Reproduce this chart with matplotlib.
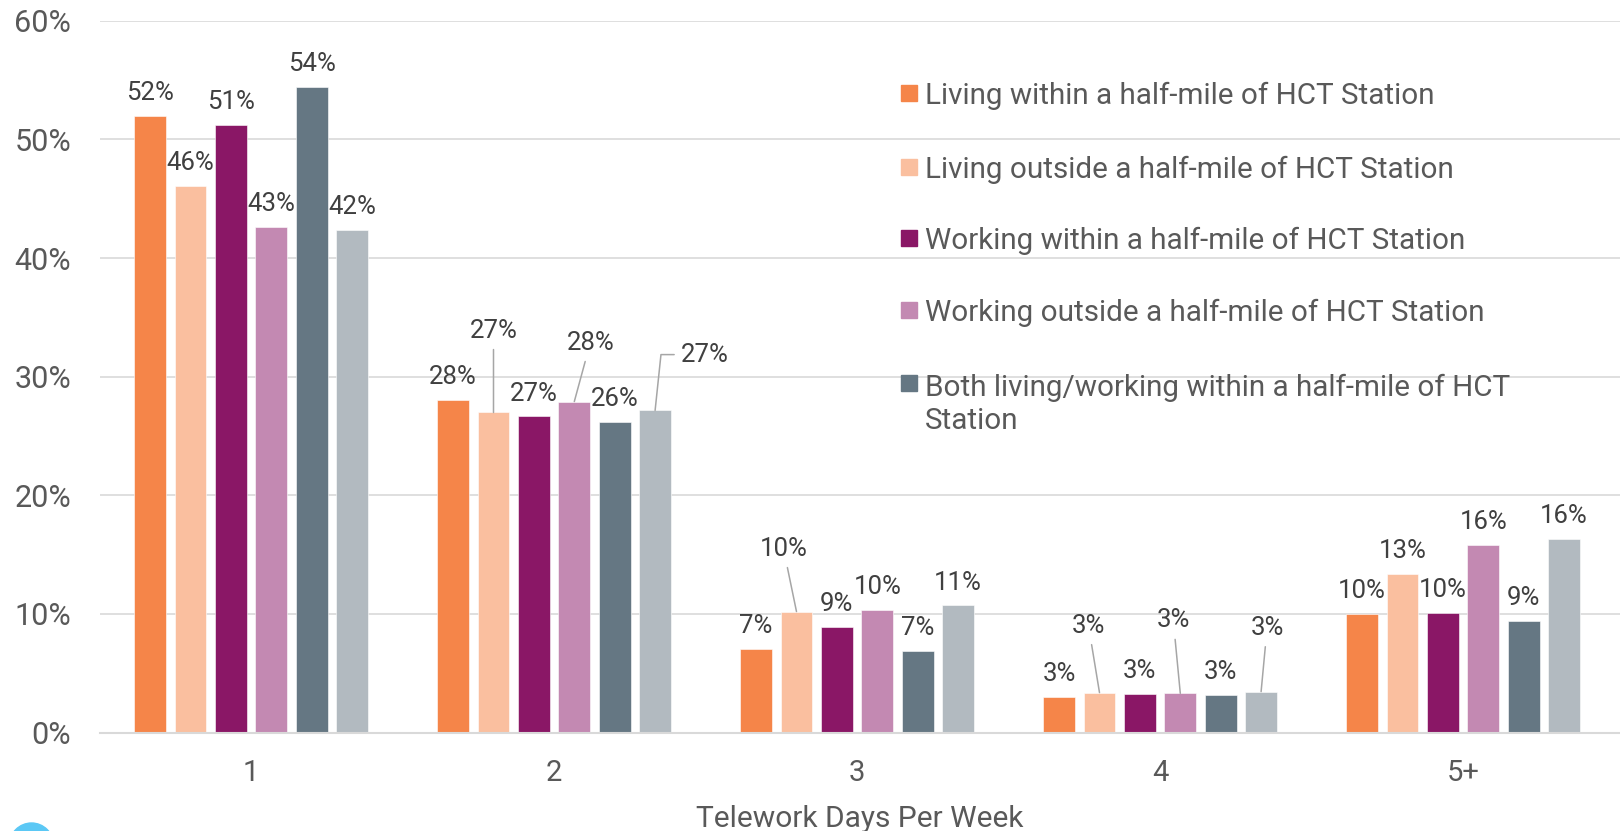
import numpy as np
import matplotlib.pyplot as plt
from matplotlib.patches import Rectangle, Circle
from matplotlib.transforms import IdentityTransform

plt.rcParams['font.family'] = ['Roboto', 'DejaVu Sans']

# data (percent of respondents)
days = ['1', '2', '3', '4', '5+']
living_within = [52.0, 28.05, 7.08, 3.0, 10.03]
living_outside = [46.1, 26.98, 10.2, 3.37, 13.37]
working_within = [51.2, 26.65, 8.87, 3.29, 10.11]
working_outside = [42.65, 27.9, 10.36, 3.31, 15.8]
both_within = [54.4, 26.2, 6.85, 3.2, 9.41]
sixth_series = [42.4, 27.15, 10.72, 3.45, 16.3]

labels = ['Living within a half-mile of HCT Station',
          'Living outside a half-mile of HCT Station',
          'Working within a half-mile of HCT Station',
          'Working outside a half-mile of HCT Station',
          'Both living/working within a half-mile of HCT\nStation']

series = [living_within, living_outside, working_within,
          working_outside, both_within, sixth_series]
colors = ['#F58549', '#FABF9F', '#8A1766', '#C389B2', '#657783', '#B2BAC0']

# label nudges (series, category): (dx px, px above bar top)
nudge = {(1, 1): (0, 84), (3, 1): (16, 61), (5, 1): (48, 58),
         (1, 2): (-13, 65), (1, 3): (-11, 69), (3, 3): (-7, 75),
         (5, 3): (6, 66)}

W, H = 1620, 831
fig = plt.figure(figsize=(W / 100, H / 100), dpi=100)
x0, y0, y1 = 99.6, 732.6, 20.7
ax = fig.add_axes([x0 / W, 1 - y0 / H, 1 - x0 / W, (y0 - y1) / H])

x = np.arange(len(days))
slot = 0.8 / 6
width = 0.105
txt = '#595959'
lab = '#404040'
fs_lab = 18.5
cap = 0.711 * fs_lab * 100 / 72

for i, vals in enumerate(series):
    pos = x + (i - 2.5) * slot
    ax.bar(pos, vals, width, color=colors[i], edgecolor='white',
           linewidth=0.4, zorder=2)
    for j, v in enumerate(vals):
        dx, up = nudge.get((i, j), (0, 25))
        if (i, j) in nudge:
            if i == 5 and j == 1:
                ax.annotate(f'{v:.0f}%', xy=(pos[j], v), xytext=(dx - 22, up - cap / 2),
                            textcoords='offset pixels', ha='left', va='baseline',
                            fontsize=fs_lab, color=lab,
                            arrowprops=dict(arrowstyle='-', color='#A6A6A6', lw=1.1,
                                            shrinkA=3, shrinkB=0, relpos=(0, 0.5),
                                            connectionstyle='angle,angleA=0,angleB=84,rad=0'))
            else:
                ax.annotate(f'{v:.0f}%', xy=(pos[j], v), xytext=(dx, up - cap / 2),
                            textcoords='offset pixels', ha='center', va='baseline',
                            fontsize=fs_lab, color=lab,
                            arrowprops=dict(arrowstyle='-', color='#A6A6A6', lw=1.1,
                                            shrinkA=3, shrinkB=0))
        else:
            ax.annotate(f'{v:.0f}%', xy=(pos[j], v), xytext=(dx, up - cap / 2),
                        textcoords='offset pixels', ha='center', va='baseline',
                        fontsize=fs_lab, color=lab)

ax.set_xlim(-0.5, -0.5 + (W - x0) / 303.0)
ax.set_ylim(0, 60)
ax.set_yticks(np.arange(0, 61, 10))
ax.set_yticklabels([f'{t}%' for t in range(0, 61, 10)])
ax.set_xticks(x)
ax.set_xticklabels(days)
ax.tick_params(axis='both', length=0, labelsize=21, colors=txt)
ax.tick_params(axis='y', pad=20.5, labelsize=22)
ax.tick_params(axis='x', pad=19)
ax.yaxis.grid(True, color='#D9D9D9', lw=1.2, zorder=0)
ax.set_axisbelow(True)
for s in ['top', 'right', 'left']:
    ax.spines[s].set_visible(False)
ax.spines['bottom'].set_color('#D9D9D9')
ax.spines['bottom'].set_linewidth(1.5)
ax.set_xlabel('Telework Days Per Week', fontsize=21.5, color=txt, labelpad=13)

# legend drawn by hand to match the layout
rows = [93, 167, 238, 310, 383]
fs_leg = 21.3
cap_leg = 0.711 * fs_leg * 100 / 72
line_gap = 35
for k, yy in enumerate(rows):
    fig.patches.append(Rectangle(((901) / W, 1 - (yy + 8) / H), 16 / W, 16 / H,
                                 transform=fig.transFigure, color=colors[k]))
    extra = labels[k].count('\n') * line_gap
    fig.text(925 / W, 1 - (yy + cap_leg / 2 + extra) / H, labels[k], fontsize=fs_leg,
             color=txt, ha='left', va='baseline', linespacing=1.2)

fig.patches.append(Circle((31.5, -14), 22, transform=IdentityTransform(),
                          color='#5BC8F5'))

fig.savefig('out.png', dpi=100)
